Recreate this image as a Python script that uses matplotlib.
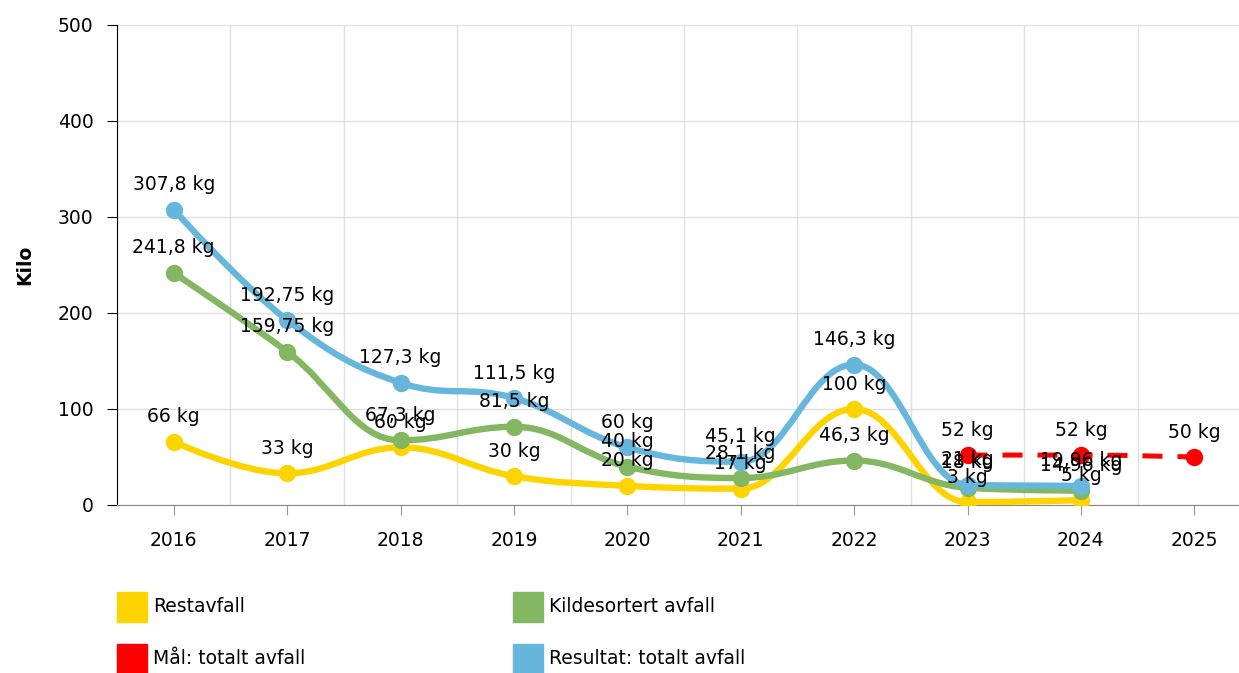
import numpy as np
import matplotlib.pyplot as plt
from matplotlib.path import Path
from matplotlib.patches import PathPatch, Rectangle

years = ['2016', '2017', '2018', '2019', '2020', '2021', '2022', '2023', '2024', '2025']
restavfall = [66, 33, 60, 30, 20, 17, 100, 3, 5]
kildesortert = [241.8, 159.75, 67.3, 81.5, 40, 28.1, 46.3, 18, 14.96]
resultat = [307.8, 192.75, 127.3, 111.5, 60, 45.1, 146.3, 21, 19.96]
maal_years = ['2023', '2024', '2025']
maal = [52, 52, 50]

c_rest = '#FDD400'
c_kilde = '#84B761'
c_res = '#67B7DC'
c_maal = '#FF0000'

W, H = 1239, 673
plt.rcParams['font.family'] = ['DejaVu Sans']
FS = 13.5


def spline_path(xs, ys, smoothing=1.5):
    # smoothed line, control points kept between neighbours (no overshoot)
    n = len(xs)
    denom = smoothing + 1
    right = [None] * n
    verts = [(xs[0], ys[0])]
    codes = [Path.MOVETO]
    for i in range(1, n):
        x, y = xs[i], ys[i]
        lx, ly = xs[i - 1], ys[i - 1]
        if i < n - 1:
            nx, ny = xs[i + 1], ys[i + 1]
            lcx = (smoothing * x + lx) / denom
            lcy = (smoothing * y + ly) / denom
            rcx = (smoothing * x + nx) / denom
            rcy = (smoothing * y + ny) / denom
            corr = (rcy - lcy) * (rcx - x) / (rcx - lcx) + y - rcy
            lcy += corr
            rcy += corr
            if lcy > ly and lcy > y:
                lcy = max(ly, y); rcy = 2 * y - lcy
            elif lcy < ly and lcy < y:
                lcy = min(ly, y); rcy = 2 * y - lcy
            if rcy > ny and rcy > y:
                rcy = max(ny, y); lcy = 2 * y - rcy
            elif rcy < ny and rcy < y:
                rcy = min(ny, y); lcy = 2 * y - rcy
            right[i] = (rcx, rcy)
        else:
            lcx, lcy = x, y
        c1 = right[i - 1] if right[i - 1] is not None else (lx, ly)
        verts += [c1, (lcx, lcy), (x, y)]
        codes += [Path.CURVE4] * 3
    return Path(verts, codes)


def fmt(v):
    return f"{v:g}".replace('.', ',') + ' kg'


fig = plt.figure(figsize=(W / 100, H / 100), dpi=100)
ax = fig.add_axes([117 / W, 1 - 505 / H, 1134 / W, 480 / H])
ax.set_xlim(-0.5, 9.5)
ax.set_ylim(0, 500)

series = [
    (restavfall, years[:9], c_rest, '-', 3),
    (kildesortert, years[:9], c_kilde, '-', 4),
    (maal, maal_years, c_maal, 'dash', 5),
    (resultat, years[:9], c_res, '-', 6),
]

for vals, yrs, col, ls, z in series:
    xs = [years.index(y) for y in yrs]
    path = spline_path(xs, vals)
    if ls == 'dash':
        patch = PathPatch(path, fill=False, edgecolor=col, lw=3.6,
                          linestyle=(0, (4, 3)), capstyle='butt', zorder=z)
    else:
        patch = PathPatch(path, fill=False, edgecolor=col, lw=4.6,
                          capstyle='round', joinstyle='round', zorder=z)
    ax.add_patch(patch)
    ax.plot(xs, vals, 'o', ms=11.5, color=col, zorder=z + 0.5)
    for x, v in zip(xs, vals):
        ax.annotate(fmt(v), (x, v), xytext=(0, 14), textcoords='offset points',
                    ha='center', va='baseline', fontsize=FS, color='black', zorder=10)

ax.set_xticks(range(len(years)))
ax.set_xticklabels(years)
ax.set_yticks(range(0, 501, 100))
ax.set_xticks(np.arange(-0.5, 10, 1), minor=True)
ax.grid(False)
ax.grid(True, which='minor', axis='x', color='#e0e0e0', lw=1)
ax.grid(True, which='major', axis='y', color='#e0e0e0', lw=1)
ax.tick_params(axis='x', which='minor', length=0)
ax.tick_params(axis='x', which='major', length=7, color='#999999', pad=12, labelsize=FS)
ax.tick_params(axis='y', length=7, color='black', pad=10, labelsize=FS)
for s in ['top', 'right']:
    ax.spines[s].set_visible(False)
ax.spines['left'].set_color('black')
ax.spines['bottom'].set_color('#888888')
ax.set_axisbelow(True)
ax.set_ylabel('Kilo', fontsize=FS, fontweight='bold', labelpad=17)

legend_items = [
    ('Restavfall', c_rest, 117, 607),
    ('Kildesortert avfall', c_kilde, 513, 607),
    ('Mål: totalt avfall', c_maal, 117, 659),
    ('Resultat: totalt avfall', c_res, 513, 659),
]
for label, col, lx, ly in legend_items:
    fig.add_artist(Rectangle((lx / W, 1 - (ly + 15) / H), 30 / W, 30 / H,
                             transform=fig.transFigure, color=col))
    fig.text((lx + 36) / W, 1 - ly / H, label, fontsize=FS, va='center', ha='left')

fig.savefig('out.png', dpi=100)
